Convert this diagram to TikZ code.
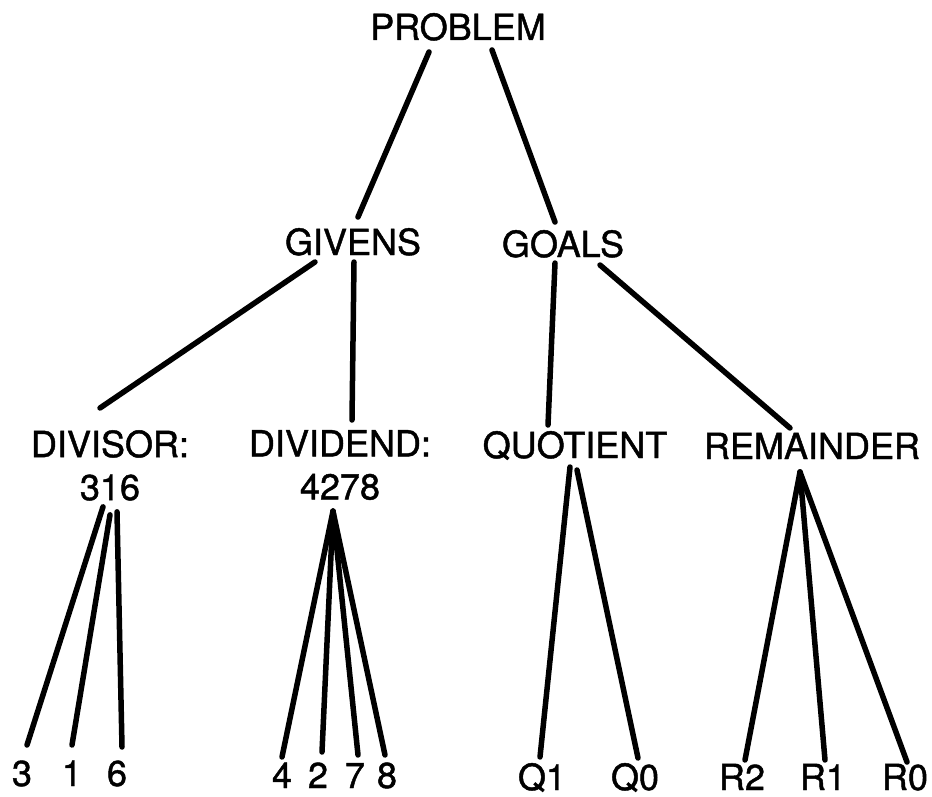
\documentclass[tikz,border=0pt]{standalone}
\usepackage{fontspec}
\setmainfont{TeX Gyre Heros}
\newfontfamily\heavy[FakeBold=1.2]{TeX Gyre Heros}
\begin{document}
\begin{tikzpicture}[x=1pt,y=-1pt,
  lbl/.style={inner sep=0pt,text height=26pt,text depth=0pt,font=\heavy\fontsize{36}{43}\selectfont},
  two/.style={inner sep=0pt,align=center,anchor=north,font=\heavy\fontsize{36}{43}\selectfont},
  edge/.style={line width=5.5pt,line cap=round}]
\useasboundingbox[fill=white] (0,0) rectangle (932,797);
% nodes
\node[lbl] (prob) at (458,27) {PROBLEM};
\node[lbl] (giv) at (353,242) {GIVENS};
\node[lbl] (goal) at (563,244) {GOALS};
\node[two] (dvs) at (110,430) {DIVISOR:\\316};
\node[two] (dvd) at (340,430) {DIVIDEND:\\4278};
\node[lbl] (quo) at (575,445) {QUOTIENT};
\node[lbl] (rem) at (812,446) {REMAINDER};
\node[lbl] (l3) at (22,773) {3};
\node[lbl] (l1) at (72,773) {1};
\node[lbl] (l6) at (117,773) {6};
\node[lbl] (l4) at (282,775) {4};
\node[lbl] (l2) at (318,775) {2};
\node[lbl] (l7) at (355,775) {7};
\node[lbl] (l8) at (387,775) {8};
\node[lbl] (q1) at (542,777) {Q1};
\node[lbl] (q0) at (635,777) {Q0};
\node[lbl] (r2) at (742,777) {R2};
\node[lbl] (r1) at (823,777) {R1};
\node[lbl] (r0) at (905,777) {R0};
% connectors
\draw[edge] ([shift={(-29,25)}]prob.center) -- ([shift={(5,-25)}]giv.center);
\draw[edge] ([shift={(34,23)}]prob.center) -- ([shift={(-8,-22)}]goal.center);
\draw[edge] ([shift={(-38,20)}]giv.center) -- ([shift={(-10,-22)}]dvs.north);
\draw[edge] ([shift={(1,20)}]giv.center) -- ([shift={(12,-10)}]dvd.north);
\draw[edge] ([shift={(-8,19)}]goal.center) -- ([shift={(-27,-20)}]quo.center);
\draw[edge] ([shift={(37,21)}]goal.center) -- ([shift={(-22,-18)}]rem.center);
\draw[edge] ([shift={(-7,6)}]dvs.south) -- ([shift={(5,-28)}]l3.center);
\draw[edge] ([shift={(0,14)}]dvs.south) -- ([shift={(0,-28)}]l1.center);
\draw[edge] ([shift={(7,11)}]dvs.south) -- ([shift={(5,-26)}]l6.center);
\draw[edge] ([shift={(-7,11)}]dvd.south) -- ([shift={(0,-18)}]l4.center);
\draw[edge] ([shift={(-7,11)}]dvd.south) -- ([shift={(4,-23)}]l2.center);
\draw[edge] ([shift={(-7,11)}]dvd.south) -- ([shift={(3,-20)}]l7.center);
\draw[edge] ([shift={(-7,11)}]dvd.south) -- ([shift={(-2,-20)}]l8.center);
\draw[edge] ([shift={(-5,22)}]quo.center) -- ([shift={(-2,-20)}]q1.center);
\draw[edge] ([shift={(2,25)}]quo.center) -- ([shift={(3,-19)}]q0.center);
\draw[edge] ([shift={(-12,26)}]rem.center) -- ([shift={(3,-17)}]r2.center);
\draw[edge] ([shift={(-12,26)}]rem.center) -- ([shift={(2,-17)}]r1.center);
\draw[edge] ([shift={(-12,26)}]rem.center) -- ([shift={(2,-15)}]r0.center);
\end{tikzpicture}
\end{document}
